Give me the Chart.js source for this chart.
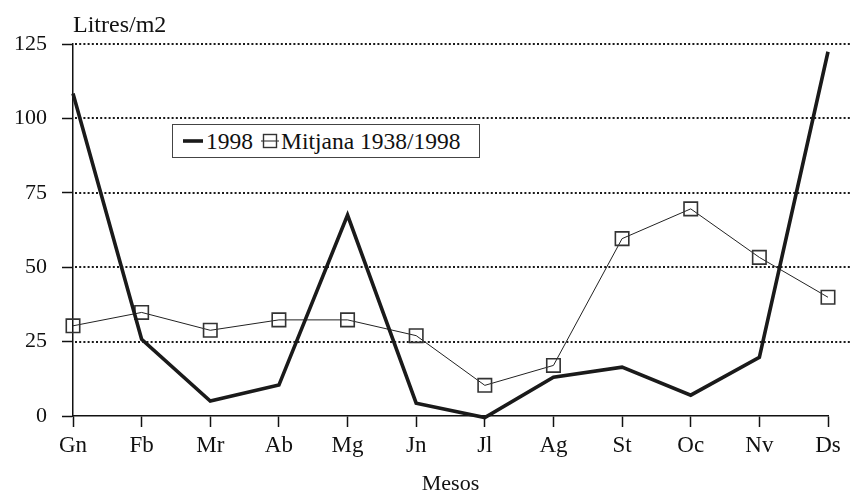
<!DOCTYPE html>
<html>
<head>
<meta charset="utf-8">
<script src="https://cdn.jsdelivr.net/npm/chart.js@4/dist/chart.umd.min.js"></script>
<style>
  html, body { margin: 0; padding: 0; background: #fff; }
  #wrap { position: relative; width: 850px; height: 495px; }
  #legend {
    position: absolute; left: 172px; top: 124px; width: 306px; height: 32px;
    border: 1px solid #444; background: #fff;
    font-family: 'Liberation Serif', 'Times New Roman', serif; font-size: 23.5px; color: #111;
    display: flex; align-items: center; box-sizing: content-box;
  }
  #legend .item { display: flex; align-items: center; white-space: nowrap; }
  #legend svg { display: block; }
</style>
</head>
<body>
<div id="wrap">
  <canvas id="c" width="850" height="495"></canvas>
  <div id="legend"></div>
</div>
<script>
const categories = ['Gn', 'Fb', 'Mr', 'Ab', 'Mg', 'Jn', 'Jl', 'Ag', 'St', 'Oc', 'Nv', 'Ds'];
const series1998 = [108.4, 25.8, 5.0, 10.4, 67.5, 4.3, -0.5, 13.0, 16.4, 7.0, 19.7, 122.4];
const seriesMitjana = [30.3, 34.8, 28.8, 32.3, 32.3, 27.0, 10.3, 17.0, 59.6, 69.6, 53.3, 39.9];
const seriesNames = ['1998', 'Mitjana 1938/1998'];
const yTicks = [0, 25, 50, 75, 100, 125];
const yTitle = 'Litres/m2';
const xTitle = 'Mesos';

Chart.defaults.font.family = "'Liberation Serif', 'Times New Roman', serif";
Chart.defaults.font.size = 22;
Chart.defaults.color = '#111';

const extras = {
  id: 'extras',
  beforeDatasetsDraw(chart) {
    const ctx = chart.ctx, y = chart.scales.y, ca = chart.chartArea;
    ctx.save();
    ctx.strokeStyle = '#1a1a1a';
    ctx.lineWidth = 2;
    ctx.setLineDash([2, 2.2]);
    yTicks.forEach(v => {
      if (v <= 0) return;
      const py = Math.round(y.getPixelForValue(v));
      ctx.beginPath();
      ctx.moveTo(ca.left + 2, py);
      ctx.lineTo(chart.width, py);
      ctx.stroke();
    });
    ctx.restore();
  },
  afterDraw(chart) {
    const ctx = chart.ctx, ca = chart.chartArea;
    ctx.save();
    ctx.fillStyle = '#111';
    ctx.font = "24px 'Liberation Serif', 'Times New Roman', serif";
    ctx.textAlign = 'left';
    ctx.textBaseline = 'alphabetic';
    ctx.fillText(yTitle, ca.left, 32);
    ctx.restore();
  }
};

const chart = new Chart(document.getElementById('c'), {
  type: 'line',
  data: {
    labels: categories,
    datasets: [
      {
        label: seriesNames[0],
        data: series1998,
        borderColor: '#1a1a1a',
        borderWidth: 3.6,
        pointRadius: 0,
        tension: 0,
        clip: false
      },
      {
        label: seriesNames[1],
        data: seriesMitjana,
        borderColor: '#222',
        borderWidth: 1,
        pointStyle: 'rect',
        pointRadius: 9.5,
        pointBorderWidth: 1.6,
        pointBorderColor: '#333',
        pointBackgroundColor: 'rgba(0,0,0,0)',
        tension: 0,
        clip: false
      }
    ]
  },
  options: {
    responsive: false,
    animation: false,
    devicePixelRatio: 1,
    layout: { padding: { top: 44, right: 22, left: 0, bottom: 0 } },
    plugins: { legend: { display: false }, tooltip: { enabled: false }, title: { display: false } },
    scales: {
      x: {
        type: 'category',
        offset: false,
        afterFit(s) { s.height = 79; },
        border: { display: true, color: '#111', width: 1.5 },
        grid: { display: true, drawOnChartArea: false, drawTicks: true, tickLength: 11, tickColor: '#111', tickWidth: 1.5 },
        ticks: { padding: 5, color: '#111', maxRotation: 0, autoSkip: false, font: { size: 23 } },
        title: { display: true, text: xTitle, color: '#111', font: { size: 22, lineHeight: 1.0 }, padding: { top: 0, bottom: 0 } }
      },
      y: {
        min: 0, max: 125,
        afterFit(s) { s.width = 73; },
        afterBuildTicks(s) { s.ticks = yTicks.map(v => ({ value: v })); },
        border: { display: true, color: '#111', width: 1.5 },
        grid: { display: true, drawOnChartArea: false, drawTicks: true, tickLength: 11, tickColor: '#111', tickWidth: 1.5 },
        ticks: { padding: 15, color: '#111', font: { size: 22 } }
      }
    }
  },
  plugins: [extras]
});

// HTML legend built from dataset names
const leg = document.getElementById('legend');
leg.innerHTML =
  '<div class="item" style="margin-left:10px">' +
    '<svg width="21" height="10"><line x1="0" y1="5" x2="20" y2="5" stroke="#1a1a1a" stroke-width="3.6"/></svg>' +
    '<span style="margin-left:2px">' + seriesNames[0] + '</span></div>' +
  '<div class="item" style="margin-left:8px">' +
    '<svg width="19" height="16"><line x1="0" y1="8" x2="18" y2="8" stroke="#222" stroke-width="1"/>' +
    '<rect x="2.5" y="1.5" width="13" height="13" fill="none" stroke="#333" stroke-width="1.4"/></svg>' +
    '<span style="margin-left:1px">' + seriesNames[1] + '</span></div>';
</script>
</body>
</html>
